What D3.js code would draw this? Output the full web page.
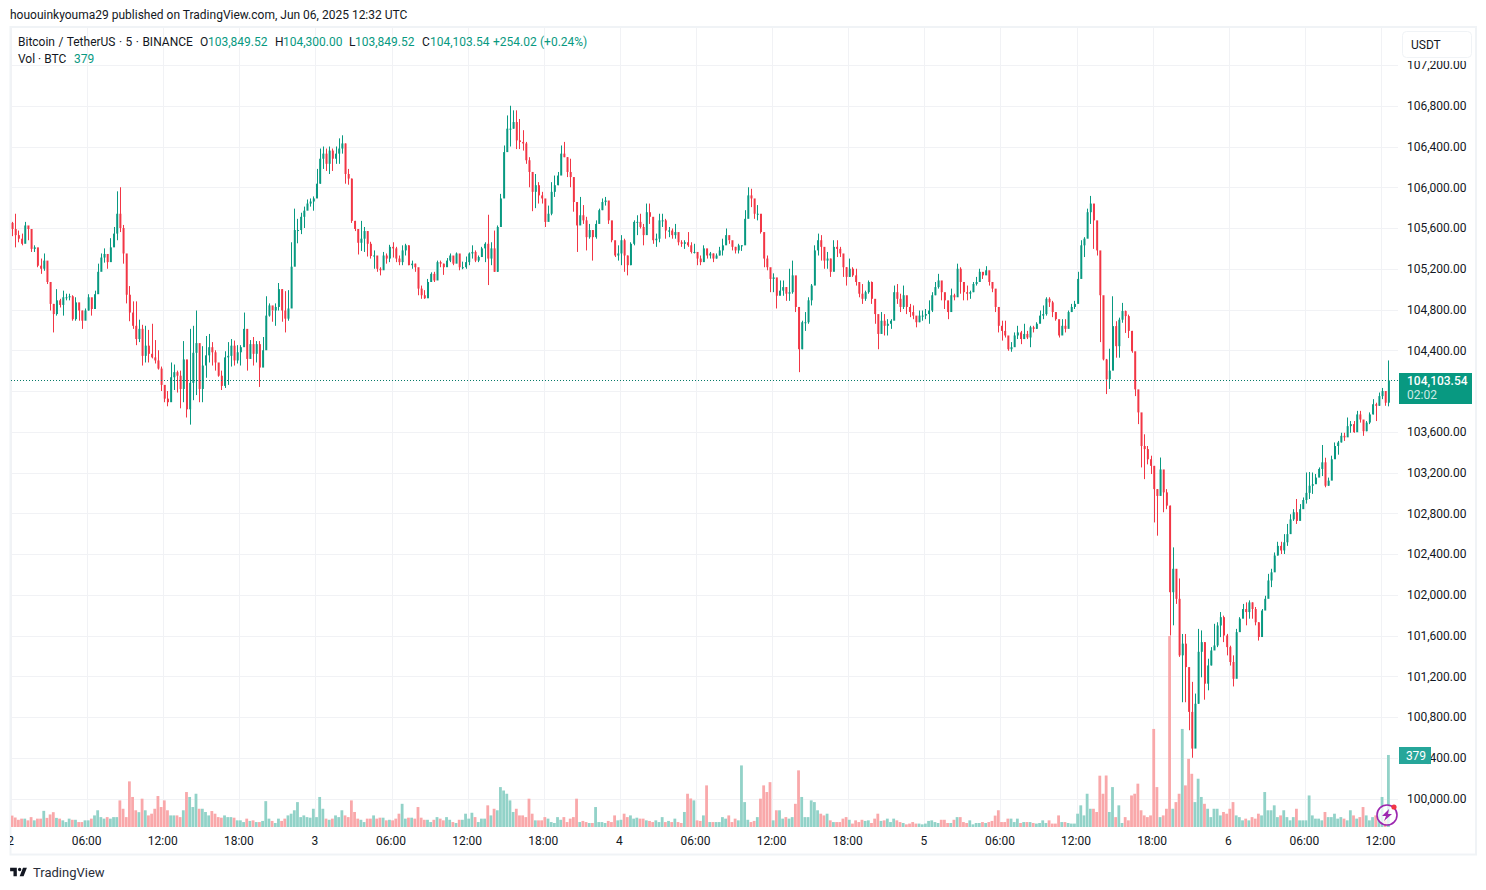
<!DOCTYPE html>
<html>
<head>
<meta charset="utf-8">
<script src="https://cdn.jsdelivr.net/npm/d3@7"></script>
<style>
	body { margin: 0; background: #fff; }
	svg { display: block; }
	text { font-family: Roboto, "Noto Sans", sans-serif; fill: #131722; }
</style>
</head>
<body>
<div id="chart"></div>
<script>
// 15 minute bars, one line per 6 hours
let closes = [
105590,105530,105495,105445,105625,105590,105395,105410,105230,105200,105280,105070,104855,104755,104890,104845,104920,104920,104930,104705,104870,104790,104690,104790,
104920,104805,104950,105170,105310,105345,105265,105410,105545,105740,105600,105350,104945,104770,104640,104510,104610,104345,104445,104365,104330,104300,104220,104060,
103925,103890,104135,104185,104150,104020,104310,103820,104080,104375,104470,104020,104250,104350,104430,104380,104280,104150,104050,104330,104345,104445,104300,104380,
104430,104610,104315,104460,104365,104460,104230,104400,104740,104840,104790,104825,105000,104790,104710,104810,105220,105580,105580,105710,105770,105840,105860,105890,
106035,106280,106330,106230,106360,106280,106330,106380,106430,106130,106085,105670,105590,105455,105495,105570,105445,105325,105330,105200,105185,105330,105300,105415,
105400,105300,105265,105380,105430,105235,105250,105215,105005,104940,104910,105070,105150,105085,105265,105250,105215,105280,105330,105250,105350,105215,105215,105265,
105350,105365,105280,105315,105400,105445,105300,105400,105170,105610,105890,106345,106575,106575,106640,106460,106445,106430,106265,106150,105955,106020,105920,105890,
105660,105740,105955,106020,106115,106330,106295,106150,106100,105855,105625,105725,105675,105510,105580,105510,105640,105775,105855,105870,105675,105480,105330,105350,
105480,105330,105235,105445,105660,105660,105610,105530,105755,105710,105480,105495,105675,105675,105575,105575,105530,105560,105460,105445,105460,105430,105365,105365,
105300,105265,105400,105330,105350,105300,105330,105380,105430,105530,105480,105415,105380,105430,105430,105690,105920,105890,105740,105740,105560,105300,105215,105100,
105115,104935,104985,105020,104955,104970,105135,104825,104410,104675,104675,104890,105035,105380,105480,105415,105280,105300,105170,105415,105395,105350,105215,105120,
105200,105135,105070,104955,104905,104970,105070,104905,104755,104560,104690,104640,104660,104690,104970,104905,104825,104940,104825,104775,104740,104675,104740,104740,
104755,104790,104940,105020,105085,104970,104890,104775,104940,104920,105200,105070,104970,104955,104970,105050,105070,105170,105135,105185,105070,105005,104825,104640,
104590,104545,104410,104430,104545,104575,104510,104560,104525,104625,104610,104660,104740,104755,104905,104870,104775,104705,104545,104640,104610,104775,104825,104855,
105100,105430,105495,105755,105840,105675,105380,104940,104310,104115,104200,104637,104440,104700,104785,104735,104590,104390,104016,103790,103460,103430,103330,103265,
103037,102970,103230,103005,102875,102025,102255,101960,101405,101520,101290,100850,100490,100930,101440,101535,101127,101306,101453,101502,101698,101780,101600,101486,
101340,101175,101633,101765,101860,101830,101925,101860,101730,101585,101845,101960,102140,102220,102385,102480,102435,102515,102595,102740,102810,102725,102840,102930,
103000,103070,103085,103150,103235,103300,103070,103120,103330,103460,103495,103560,103545,103655,103675,103595,103770,103720,103605,103690,103770,103870,103855,103950,
104000,103885,104103.54
];

let highs = [
105660,105740,105575,105545,105660,105610,105460,105430,105330,105300,105350,105180,105070,104855,105000,104905,104985,104955,104955,104940,104920,104840,104790,104810,
104950,104870,104985,105250,105350,105400,105345,105500,105610,105960,106000,105630,105345,105030,104880,104880,104700,104650,104640,104600,104660,104500,104400,104240,
104010,104000,104280,104260,104200,104200,104490,104305,104610,104640,104790,104380,104440,104540,104560,104480,104400,104240,104200,104390,104480,104510,104495,104450,
104450,104770,104450,104500,104530,104490,104490,104530,104930,104860,104790,104860,105060,105000,104980,104990,105460,105790,105690,105750,105810,105880,105890,105910,
106180,106380,106400,106380,106400,106380,106400,106480,106510,106430,106180,106085,105670,105590,105670,105610,105570,105465,105380,105300,105215,105365,105350,105435,
105460,105415,105330,105430,105445,105430,105280,105250,105200,105035,104990,105100,105165,105170,105280,105280,105250,105305,105350,105320,105360,105330,105270,105320,
105360,105430,105380,105330,105415,105460,105730,105460,105575,105625,105935,106410,106705,106800,106755,106755,106670,106560,106445,106295,106150,106130,106050,105955,
105790,105820,106050,106115,106150,106410,106445,106295,106280,105935,105775,105905,105825,105710,105640,105580,105675,105790,105890,105905,105790,105595,105445,105430,
105530,105495,105330,105460,105675,105725,105740,105640,105840,105840,105675,105545,105740,105740,105690,105610,105595,105640,105495,105480,105480,105560,105460,105445,
105350,105330,105430,105380,105365,105350,105350,105415,105495,105595,105480,105445,105415,105445,105430,105775,106000,105985,105855,105825,105690,105510,105330,105150,
105155,105050,105085,105085,105020,105200,105280,105070,104775,104690,104775,104920,105050,105430,105545,105530,105380,105365,105300,105480,105480,105415,105300,105215,
105300,105215,105200,105050,105050,104985,105085,105075,104855,104705,104775,104755,104705,104705,105035,105050,104955,105035,104905,104855,104840,104705,104790,104790,
104805,104890,104970,105070,105150,105035,104955,104870,105005,104955,105250,105215,105035,105035,104985,105070,105120,105200,105150,105225,105170,105070,104940,104740,
104690,104690,104510,104480,104575,104640,104590,104660,104590,104640,104640,104675,104790,104840,104920,104920,104885,104755,104675,104705,104705,104790,104855,104885,
105170,105480,105510,105790,105915,105725,105595,105315,104575,104315,104415,104930,104685,104720,104865,104790,104750,104590,104180,103965,103560,103575,103460,103365,
103265,103037,103347,103185,103037,102875,102465,102190,102160,101615,101615,101240,101145,101030,101665,101650,101535,101372,101486,101715,101730,101830,101795,101616,
101500,101405,101665,101780,101910,101925,101945,101925,101880,101730,101860,101990,102205,102255,102415,102520,102520,102595,102695,102790,102840,102940,102890,102955,
103200,103205,103200,103185,103250,103470,103345,103150,103365,103495,103510,103590,103590,103740,103705,103705,103805,103805,103705,103705,103790,103920,103885,103985,
104030,103985,104300
];

let lows = [
105520,105410,105460,105430,105495,105480,105365,105365,105215,105150,105180,105050,104790,104575,104740,104820,104740,104890,104890,104690,104690,104690,104610,104740,
104790,104740,104855,105105,105250,105260,105200,105280,105445,105480,105560,105250,104860,104685,104610,104450,104480,104250,104280,104280,104320,104270,104210,104000,
103890,103850,103990,104010,103985,103830,103890,103740,103670,103910,103960,103890,103890,104130,104280,104250,104200,104140,104010,104030,104060,104240,104250,104270,
104250,104450,104200,104320,104250,104280,104040,104240,104490,104730,104680,104640,104790,104680,104575,104690,104960,105370,105450,105540,105600,105780,105810,105770,
105935,106035,106180,106160,106130,106160,106230,106230,106330,106035,106025,105650,105570,105340,105375,105365,105320,105300,105200,105170,105135,105265,105250,105265,
105310,105265,105235,105235,105330,105235,105200,105170,104940,104905,104905,104920,105070,105070,105185,105215,105140,105235,105265,105235,105265,105185,105195,105200,
105235,105300,105265,105265,105365,105265,105040,105235,105170,105170,105640,106150,106360,106400,106575,106375,106375,106360,106230,106000,105765,105795,105840,105840,
105610,105725,105725,105905,106020,106165,106295,106100,106000,105760,105365,105660,105640,105380,105495,105280,105495,105675,105775,105820,105640,105460,105315,105280,
105235,105170,105135,105235,105430,105530,105595,105430,105575,105640,105445,105415,105460,105610,105495,105510,105495,105495,105430,105415,105395,105415,105350,105350,
105235,105235,105315,105300,105300,105265,105300,105330,105330,105460,105445,105380,105350,105350,105375,105445,105790,105805,105690,105675,105545,105215,105185,104970,
104970,104810,104955,104935,104885,104885,104955,104775,104185,104410,104590,104660,104840,105050,105330,105280,105200,105200,105120,105215,105315,105315,105120,105035,
105120,105120,105035,104920,104855,104885,104955,104855,104660,104410,104575,104545,104545,104610,104775,104855,104775,104805,104755,104725,104705,104625,104675,104690,
104705,104660,104775,104940,105005,104890,104805,104705,104840,104890,105070,104955,104890,104890,104905,104970,105035,105100,105100,105150,105035,104970,104775,104575,
104495,104525,104395,104385,104480,104510,104460,104510,104510,104430,104575,104610,104675,104705,104740,104825,104725,104690,104525,104625,104575,104625,104775,104805,
104940,105315,105315,105590,105640,105395,105330,104480,104300,103970,104020,104294,104327,104327,104670,104570,104520,104375,103950,103675,103250,103135,103280,103185,
102710,102580,103135,102810,102840,101600,101700,101910,101390,100945,100945,100670,100400,100750,100930,101190,100970,101062,101306,101470,101486,101584,101535,101405,
101305,101100,101372,101680,101795,101700,101765,101765,101700,101550,101600,101860,102040,102075,102255,102385,102400,102400,102480,102695,102725,102695,102740,102875,
102895,102940,102990,103100,103165,103165,103055,103070,103235,103375,103375,103495,103510,103560,103590,103590,103705,103690,103560,103605,103675,103770,103705,103855,
103920,103855,103849.52
];

let volumes = [
60,50,38,44,44,35,52,35,44,44,85,48,66,78,48,44,35,26,44,38,38,26,26,35,
35,44,61,88,52,44,52,44,52,52,140,96,52,240,158,88,78,149,88,61,70,96,163,105,
140,88,61,61,61,52,88,184,158,105,175,96,96,79,61,84,70,52,49,61,52,52,49,35,
35,26,44,32,35,26,26,32,136,44,32,21,44,32,44,61,70,88,131,52,61,52,49,96,
52,158,96,44,38,44,61,52,88,61,52,140,79,44,38,26,44,44,61,44,49,49,35,38,
35,44,70,122,44,49,49,44,105,49,38,38,26,38,52,44,35,52,38,26,21,38,38,70,
44,75,52,26,44,44,114,61,96,88,210,192,175,140,79,96,61,61,52,149,70,35,35,35,
52,44,26,21,52,38,52,26,44,52,149,26,32,26,21,21,105,26,26,21,32,26,61,35,
38,70,52,61,44,49,44,44,35,32,26,35,26,52,26,32,26,44,26,21,79,175,150,140,
35,32,61,219,26,26,26,26,52,44,61,26,44,35,324,131,38,26,32,52,149,219,184,236,
35,88,88,44,52,44,52,122,298,158,52,52,140,131,88,70,61,70,35,26,26,26,44,52,
38,18,35,26,38,32,35,21,44,70,32,35,44,26,44,35,26,21,14,18,26,18,18,14,
18,32,35,26,21,38,38,21,21,38,52,52,26,21,35,14,21,21,26,21,26,32,60,88,
26,26,44,44,26,44,21,26,26,26,21,18,21,35,21,35,18,18,61,26,26,21,18,18,
70,114,61,175,96,96,79,270,175,271,79,210,52,114,21,52,35,166,175,228,88,61,52,61,
516,210,52,61,96,1005,96,131,175,516,219,359,280,131,254,158,122,96,52,96,96,61,79,70,
96,131,61,52,35,44,35,52,44,70,61,184,88,88,114,52,61,88,52,35,52,96,35,35,
35,166,61,44,44,35,79,52,52,70,44,52,44,35,88,61,44,52,105,61,35,52,61,70,
158,35,379
];

let priceTicks = [100000,100400,100800,101200,101600,102000,102400,102800,103200,103600,104000,104400,104800,105200,105600,106000,106400,106800,107200];
let hiddenPriceLabel = 104000; // covered by the price tag in the picture
let firstOpen = 105650;
let lastPrice = 104103.54;
let lastVolume = 379;

let up = "#089981", down = "#f23645";
let upVol = "#92d2c8", downVol = "#f9a8aa";
let greyBorder = "#f0f3f6", gridColor = "#f1f2f5";

let width = 1486, height = 890;
let plot = {left: 11, right: 1398, top: 28, bottom: 827};

let svg = d3.select("#chart").append("svg")
	.attr("width", width)
	.attr("height", height);

let start = Date.UTC(2025, 5, 2, 0, 0);
let barMs = 15 * 60 * 1000;
let opens = closes.map((c, i) => i == 0 ? firstOpen : closes[i - 1]);
let barTime = i => new Date(start + i * barMs + 5 * 60 * 1000);

let x = d3.scaleUtc()
	.domain([new Date(start), new Date(Date.UTC(2025, 5, 6, 12, 0))])
	.range([11, 1381]);

let y = d3.scaleLinear()
	.domain([100000, 107200])
	.range([798.5, 65]);

// volume has its own scale, baseline at the bottom of the plot
let yVol = d3.scaleLinear()
	.domain([0, 1005])
	.range([plot.bottom, 636]);

svg.append("defs").append("clipPath")
	.attr("id", "plotClip")
	.append("rect")
	.attr("x", plot.left)
	.attr("y", plot.top)
	.attr("width", plot.right - plot.left)
	.attr("height", plot.bottom - plot.top);

svg.select("defs").append("clipPath")
	.attr("id", "timeClip")
	.append("rect")
	.attr("x", 10)
	.attr("y", plot.bottom)
	.attr("width", plot.right - 10)
	.attr("height", 26);

// frame
svg.append("rect")
	.attr("x", 10.5)
	.attr("y", 27)
	.attr("width", 1465.5)
	.attr("height", 827.5)
	.attr("fill", "#fff")
	.attr("stroke", greyBorder)
	.attr("stroke-width", 2);

let timeTicks = d3.utcHour.every(6).range(new Date(start), new Date(Date.UTC(2025, 5, 6, 12, 1)));

// GRID
svg.append("g").selectAll("line")
	.data(timeTicks)
	.enter()
	.append("line")
	.attr("x1", d => Math.round(x(d)) + 0.5)
	.attr("x2", d => Math.round(x(d)) + 0.5)
	.attr("y1", plot.top)
	.attr("y2", plot.bottom)
	.attr("stroke", gridColor);

svg.append("g").selectAll("line")
	.data(priceTicks)
	.enter()
	.append("line")
	.attr("x1", plot.left)
	.attr("x2", plot.right)
	.attr("y1", d => Math.round(y(d)) + 0.5)
	.attr("y2", d => Math.round(y(d)) + 0.5)
	.attr("stroke", gridColor);

let marks = svg.append("g").attr("clip-path", "url(#plotClip)");

// VOLUME
marks.append("g").selectAll("rect")
	.data(volumes)
	.enter()
	.append("rect")
	.attr("x", (d, i) => x(barTime(i)) - 1.4)
	.attr("width", 2.8)
	.attr("y", d => yVol(d))
	.attr("height", d => plot.bottom - yVol(d))
	.attr("fill", (d, i) => closes[i] >= opens[i] ? upVol : downVol);

// CANDLES
let candle = marks.append("g").selectAll("g")
	.data(closes)
	.enter()
	.append("g")
	.attr("fill", (d, i) => closes[i] >= opens[i] ? up : down);

candle.append("rect")
	.attr("x", (d, i) => Math.round(x(barTime(i))))
	.attr("width", 1)
	.attr("y", (d, i) => y(highs[i]))
	.attr("height", (d, i) => y(lows[i]) - y(highs[i]));

candle.append("rect")
	.attr("x", (d, i) => x(barTime(i)) - 0.5)
	.attr("width", 2)
	.attr("y", (d, i) => y(Math.max(opens[i], closes[i])))
	.attr("height", (d, i) => Math.max(1, Math.abs(y(opens[i]) - y(closes[i]))));

// last price line
svg.append("line")
	.attr("x1", plot.left)
	.attr("x2", plot.right)
	.attr("y1", Math.round(y(lastPrice)) + 0.5)
	.attr("y2", Math.round(y(lastPrice)) + 0.5)
	.attr("stroke", "#067a68")
	.attr("stroke-dasharray", "1 2");

// AXES
let yAxis = d3.axisRight(y)
	.tickValues(priceTicks.filter(d => d != hiddenPriceLabel))
	.tickFormat(d3.format(",.2f"))
	.tickSize(0)
	.tickPadding(0);

let yAxisG = svg.append("g")
	.attr("transform", "translate(1407,0)")
	.call(yAxis);
yAxisG.select(".domain").remove();
yAxisG.selectAll("text").attr("font-size", 12);

let xAxis = d3.axisBottom(x)
	.tickValues(timeTicks)
	.tickFormat(d => d.getUTCHours() == 0 ? d3.utcFormat("%-d")(d) : d3.utcFormat("%H:%M")(d))
	.tickSize(0)
	.tickPadding(0);

let xAxisG = svg.append("g")
	.attr("clip-path", "url(#timeClip)")
	.append("g")
	.attr("transform", "translate(-1,836)")
	.call(xAxis);
xAxisG.select(".domain").remove();
xAxisG.selectAll("text").attr("font-size", 12);

// currency button sits over the top tick label
svg.append("rect")
	.attr("x", 1402)
	.attr("y", 31)
	.attr("width", 70)
	.attr("height", 30)
	.attr("fill", "#fff");

svg.append("rect")
	.attr("x", 1402.5)
	.attr("y", 31.5)
	.attr("width", 69)
	.attr("height", 26)
	.attr("rx", 4)
	.attr("fill", "#fff")
	.attr("stroke", greyBorder);

svg.append("text")
	.attr("x", 1411)
	.attr("y", 49)
	.attr("font-size", 12)
	.text("USDT");

// price tag
svg.append("rect")
	.attr("x", 1399)
	.attr("y", 373)
	.attr("width", 73)
	.attr("height", 31)
	.attr("fill", up);

svg.append("text")
	.attr("x", 1407)
	.attr("y", 385)
	.attr("font-size", 12)
	.attr("font-weight", 500)
	.style("fill", "#fff")
	.text(d3.format(",.2f")(lastPrice));

svg.append("text")
	.attr("x", 1407)
	.attr("y", 399)
	.attr("font-size", 12)
	.style("fill", "#cfeae5")
	.text("02:02");

// volume tag
svg.append("rect")
	.attr("x", 1399)
	.attr("y", 747)
	.attr("width", 32)
	.attr("height", 17)
	.attr("fill", "#26a69a");

svg.append("text")
	.attr("x", 1416)
	.attr("y", 760)
	.attr("font-size", 12)
	.attr("text-anchor", "middle")
	.style("fill", "#fff")
	.text(lastVolume);

// bolt badge
let badge = svg.append("g").attr("transform", "translate(1387,815)");
badge.append("circle")
	.attr("r", 10)
	.attr("fill", "#fff")
	.attr("fill-opacity", 0.75)
	.attr("stroke", "#9c27b0")
	.attr("stroke-width", 1.6);
badge.append("path")
	.attr("d", "M2,-6 L-5,1 L-1,1 L-3,6 L5,-1 L1,-1 Z")
	.attr("fill", "#9c27b0");
badge.append("circle")
	.attr("cx", 7)
	.attr("cy", -8)
	.attr("r", 2.6)
	.attr("fill", "#f23645");

// TEXT
svg.append("text")
	.attr("x", 10)
	.attr("y", 19)
	.attr("font-size", 12)
	.text("hououinkyouma29 published on TradingView.com, Jun 06, 2025 12:32 UTC");

let legendBits = [
	["Bitcoin / TetherUS · 5 · BINANCE", 18, "#131722"],
	["O", 200, "#131722"], ["103,849.52", 208, up],
	["H", 275, "#131722"], ["104,300.00", 283, up],
	["L", 349, "#131722"], ["103,849.52", 355, up],
	["C", 422, "#131722"], ["104,103.54", 430, up],
	["+254.02", 493, up], ["(+0.24%)", 540, up]
];

svg.append("g").selectAll("text")
	.data(legendBits)
	.enter()
	.append("text")
	.attr("x", d => d[1])
	.attr("y", 46)
	.attr("font-size", 12)
	.style("word-spacing", "0.5px")
	.style("fill", d => d[2])
	.text(d => d[0]);

svg.append("text").attr("x", 18).attr("y", 63).attr("font-size", 12).text("Vol · BTC");
svg.append("text").attr("x", 74).attr("y", 63).attr("font-size", 12).style("fill", up).text(lastVolume);

// footer logo
svg.append("path")
	.attr("transform", "translate(9,864.5) scale(0.56)")
	.attr("d", "M14 6H2v6h6v9h6V6Zm12 15h-7l6-15h7l-6 15Zm-7-9a3 3 0 1 0 0-6 3 3 0 0 0 0 6Z")
	.attr("fill", "#131722");

svg.append("text")
	.attr("x", 33)
	.attr("y", 877)
	.attr("font-size", 13)
	.style("fill", "#2a2e39")
	.text("TradingView");
</script>
</body>
</html>
